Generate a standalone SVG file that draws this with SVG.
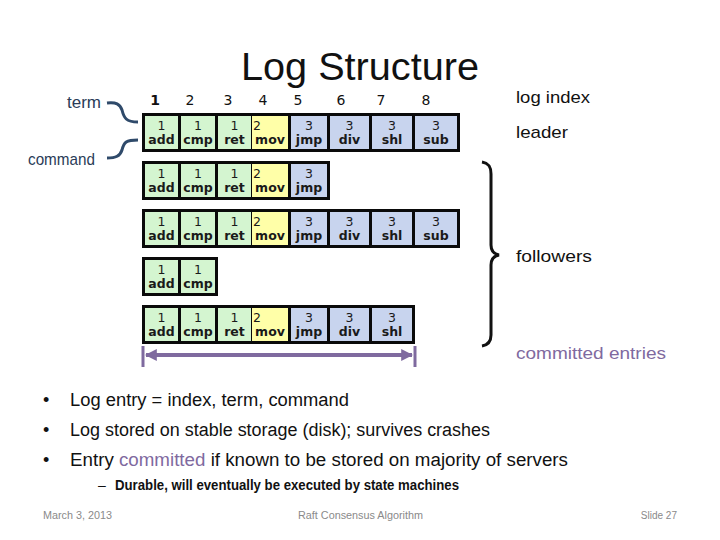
<svg xmlns="http://www.w3.org/2000/svg" width="720" height="540" viewBox="0 0 720 540">
<defs>
<style>
.t{font-family:"Liberation Sans",Arial,sans-serif}
.lbl{font-family:"Liberation Sans",Arial,sans-serif;font-size:17px;fill:#111}
.side{font-family:"Liberation Sans",Arial,sans-serif;font-size:17px;fill:#2a3c58}
.hdr{font-family:"DejaVu Sans",sans-serif;font-size:14px;fill:#111;text-anchor:middle}
.num{font-family:"DejaVu Sans",sans-serif;font-size:12.5px;fill:#1a1a1a;text-anchor:middle}
.cmd{font-family:"DejaVu Sans",sans-serif;font-size:12.5px;font-weight:bold;fill:#1a1a1a;text-anchor:middle}
.g{fill:#d4f5d0}
.y{fill:#ffffa8}
.b{fill:#c8d4ee}
.box{fill:#0a0a0a}
.bul{font-family:"Liberation Sans",Arial,sans-serif;font-size:18px;fill:#111}
.foot{font-family:"Liberation Sans",Arial,sans-serif;font-size:10px;fill:#8a8a8a}
.purple{fill:#7f6a9f}
</style>
<g id="c1"><rect class="g" x="145" y="3" width="33" height="33"/><text class="num" x="161.5" y="17">1</text><text class="cmd" x="161.5" y="31">add</text></g>
<g id="c2"><rect class="g" x="181" y="3" width="34" height="33"/><text class="num" x="198" y="17">1</text><text class="cmd" x="198" y="31">cmp</text></g>
<g id="c3"><rect class="g" x="218" y="3" width="33" height="33"/><text class="num" x="234.5" y="17">1</text><text class="cmd" x="234.5" y="31">ret</text></g>
<g id="c4"><rect class="y" x="252" y="3" width="36" height="33"/><text class="num" x="253" y="17" style="text-anchor:start">2</text><text class="cmd" x="270" y="31">mov</text></g>
<g id="c5"><rect class="b" x="291" y="3" width="36" height="33"/><text class="num" x="309" y="17">3</text><text class="cmd" x="309" y="31">jmp</text></g>
<g id="c6"><rect class="b" x="330" y="3" width="39" height="33"/><text class="num" x="349.5" y="17">3</text><text class="cmd" x="349.5" y="31">div</text></g>
<g id="c7"><rect class="b" x="372" y="3" width="40" height="33"/><text class="num" x="392" y="17">3</text><text class="cmd" x="392" y="31">shl</text></g>
<g id="c8"><rect class="b" x="415" y="3" width="42" height="33"/><text class="num" x="436" y="17">3</text><text class="cmd" x="436" y="31">sub</text></g>
<marker id="pa" viewBox="0 0 10 10" refX="9" refY="5" markerWidth="3" markerHeight="3" orient="auto-start-reverse"><path d="M0,0 L10,5 L0,10 z" fill="#7f6a9f"/></marker>
</defs>
<rect width="720" height="540" fill="#fff"/>

<text class="t" x="360" y="80" font-size="39" text-anchor="middle" fill="#111" textLength="238" lengthAdjust="spacingAndGlyphs">Log Structure</text>

<g id="header">
<text class="hdr" x="155" y="105" font-weight="bold">1</text>
<text class="hdr" x="190" y="105">2</text>
<text class="hdr" x="228" y="105">3</text>
<text class="hdr" x="263" y="105">4</text>
<text class="hdr" x="298" y="105">5</text>
<text class="hdr" x="341" y="105">6</text>
<text class="hdr" x="381" y="105">7</text>
<text class="hdr" x="426" y="105">8</text>
</g>

<g id="leader-log" transform="translate(0,113)">
<rect class="box" x="142" y="0" width="318" height="39"/>
<use href="#c1"/><use href="#c2"/><use href="#c3"/><use href="#c4"/><use href="#c5"/><use href="#c6"/><use href="#c7"/><use href="#c8"/>
</g>
<g id="follower1" transform="translate(0,161)">
<rect class="box" x="142" y="0" width="188" height="39"/>
<use href="#c1"/><use href="#c2"/><use href="#c3"/><use href="#c4"/><use href="#c5"/>
</g>
<g id="follower2" transform="translate(0,209)">
<rect class="box" x="142" y="0" width="318" height="39"/>
<use href="#c1"/><use href="#c2"/><use href="#c3"/><use href="#c4"/><use href="#c5"/><use href="#c6"/><use href="#c7"/><use href="#c8"/>
</g>
<g id="follower3" transform="translate(0,257)">
<rect class="box" x="142" y="0" width="76" height="39"/>
<use href="#c1"/><use href="#c2"/>
</g>
<g id="follower4" transform="translate(0,305)">
<rect class="box" x="142" y="0" width="273" height="39"/>
<use href="#c1"/><use href="#c2"/><use href="#c3"/><use href="#c4"/><use href="#c5"/><use href="#c6"/><use href="#c7"/>
</g>

<g id="term-label"><text class="side" x="101" y="108" text-anchor="end">term</text></g>
<g id="command-label"><text class="side" x="95" y="165" text-anchor="end" textLength="67" lengthAdjust="spacingAndGlyphs">command</text></g>

<g id="connectors" fill="none">
<path d="M107,103 C116,102 120,104 122,110 C124,118 126,122 138,122" stroke="#2f4a6a" stroke-width="3"/>
<path d="M107,158 C116,158 120,156 122,150 C124,142 126,140 138,140" stroke="#2f4a6a" stroke-width="3"/>
<path d="M482,162 C488,163 491,166 491,174 L491,245 C491,251 494,254 499,255 C494,256 491,259 491,265 L491,335 C491,342 488,345 482,346" stroke="#111" stroke-width="3"/>
<line x1="146" y1="355" x2="412" y2="355" stroke="#7f6a9f" stroke-width="4" marker-start="url(#pa)" marker-end="url(#pa)"/>
<line x1="143" y1="346" x2="143" y2="367" stroke="#7f6a9f" stroke-width="3"/>
<line x1="415" y1="346" x2="415" y2="367" stroke="#7f6a9f" stroke-width="3"/>
</g>

<g id="log-index-label"><text class="lbl" x="516" y="103" textLength="74" lengthAdjust="spacingAndGlyphs">log index</text></g>
<g id="leader-label"><text class="lbl" x="516" y="138" textLength="52" lengthAdjust="spacingAndGlyphs">leader</text></g>
<g id="followers-label"><text class="lbl" x="516" y="262" textLength="76" lengthAdjust="spacingAndGlyphs">followers</text></g>
<g id="committed-label"><text class="lbl purple" x="516" y="359" textLength="150" lengthAdjust="spacingAndGlyphs">committed entries</text></g>

<g id="bullets">
<text class="bul" x="43" y="406">•</text>
<text class="bul" x="70" y="406" textLength="279" lengthAdjust="spacingAndGlyphs">Log entry = index, term, command</text>
<text class="bul" x="43" y="436">•</text>
<text class="bul" x="70" y="436" textLength="420" lengthAdjust="spacingAndGlyphs">Log stored on stable storage (disk); survives crashes</text>
<text class="bul" x="43" y="466">•</text>
<text class="bul" x="70" y="466" textLength="498" lengthAdjust="spacingAndGlyphs">Entry <tspan fill="#7f6a9f">committed</tspan> if known to be stored on majority of servers</text>
<text class="t" x="98" y="490" font-size="14" fill="#111">–</text>
<text class="t" x="115" y="490" font-size="14" font-weight="bold" fill="#111" textLength="344" lengthAdjust="spacingAndGlyphs">Durable, will eventually be executed by state machines</text>
</g>

<g id="footer">
<text class="foot" x="43" y="519" textLength="69" lengthAdjust="spacingAndGlyphs">March 3, 2013</text>
<text class="foot" x="298" y="519" textLength="125" lengthAdjust="spacingAndGlyphs">Raft Consensus Algorithm</text>
<text class="foot" x="677" y="519" text-anchor="end">Slide 27</text>
</g>
</svg>
